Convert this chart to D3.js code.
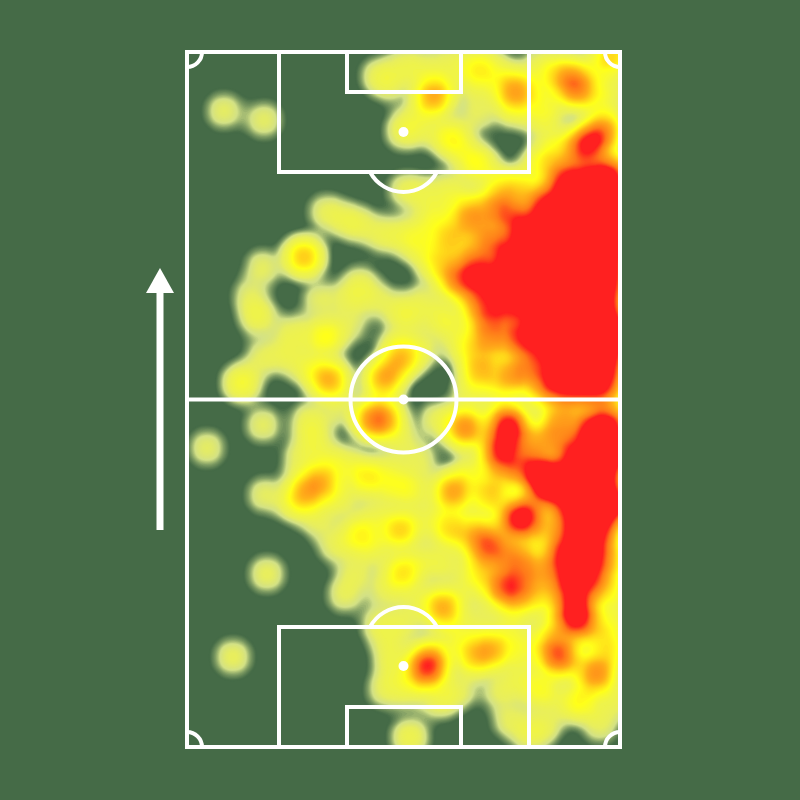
<!DOCTYPE html>
<html><head><meta charset="utf-8">
<script src="https://cdn.jsdelivr.net/npm/d3@7"></script>
<style>html,body{margin:0;padding:0;background:#456b47}svg{display:block}</style>
</head><body><div id="c"></div>
<script>
// touches: [across, along, weight]; across 0-433 left to right, along 0-695 own goal to opposition goal
const isolated=[[37,636,1],[77,627,1],[139,535,1],[117,490,4],[20,299,1],[80,173,1.1],[46,90,1.1],[78,252,1],[76,322,1]];
const attackingBox=[[192,671,1.1],[205,662,.8],[217,615,1.2],[225,627,.8],[246,650,4.5],[218,682,1],[238,677,1],[263,685,1],[291,679,2.6],[260,662,.8],[265,609,2.2],[243,617,.8],[272,597,.7],[291,632,.9],[293,657,1],[327,657,4.5],[313,677,1],[328,637,1.5],[290,584,2.4],[218,557,1],[238,552,1],[263,557,1.2],[313,567,1.2]];
const rightTop=[[390,657,5],[383,672,3],[368,672,1.5],[403,604,5.5],[416,614,4],[393,597,4],[425,692,3.5],[358,627,1.5],[368,597,2],[425,582,2],[353,582,2],[353,682,1],[408,677,1],[413,647,1.2],[421,625,1.2],[348,657,1],[358,645,1],[425,660,1]];
const flankUpper=[[378,567,8],[403,567,8],[423,567,8],[358,542,8],[383,542,8],[408,542,8],[428,542,8],[338,517,8],[363,517,8],[388,517,8],[413,517,8],[431,517,8],[323,492,8],[348,492,8],[373,492,8],[398,492,8],[423,492,8],[273,467,6],[298,467,8],[323,467,8],[348,467,8],[373,467,8],[398,467,8],[423,467,8],[293,442,4.5],[318,442,6],[343,442,8],[368,442,8],[393,442,8],[418,442,8],[333,417,3],[358,417,8],[383,417,8],[408,417,8],[428,417,8],[373,392,8],[398,392,8],[423,392,8],[368,367,8],[393,367,8],[418,367,8],[383,350,3],[408,350,3]];
const halfSpaceUpper=[[323,532,4],[263,507,3.2],[283,527,4],[303,507,4.5],[253,482,2.6],[288,487,4.5],[308,537,3.2],[283,542,1.5],[333,557,2.6],[313,552,1.5],[253,532,1],[303,407,4.5],[333,407,5],[353,397,4],[293,377,4],[323,372,4],[343,377,4],[303,427,3.5],[278,402,2],[263,427,1],[353,352,2],[313,352,1.2],[283,352,1.2]];
const midfield=[[173,522,1],[198,512,1.2],[223,512,1.3],[158,527,.8],[233,497,1.2],[243,522,1],[76,480,1],[71,430,1.4],[63,452,.8],[76,390,1],[55,364,2],[133,447,1],[173,464,1],[163,447,1],[190,447,.9],[138,410,2.6],[106,414,1.2],[143,367,4.4],[123,377,1.4],[101,390,1],[163,420,.8],[223,427,.9],[253,427,.9],[238,397,.9],[196,367,4],[216,390,3.2],[206,377,1.3],[186,327,5],[200,329,3],[250,327,1.1],[123,327,1.2],[126,307,1.2],[153,337,.9],[276,320,3.5],[213,307,1],[233,287,1],[213,437,1],[238,447,.9],[208,402,.8]];
const ownHalf=[[118,255,3.6],[135,265,3.6],[108,242,1.2],[153,247,1.2],[143,287,1.2],[180,269,2.6],[208,259,1.6],[228,257,1.5],[203,277,1],[163,282,1],[113,287,1],[216,175,3],[213,217,3.6],[173,212,2.5],[263,219,3.2],[168,175,1],[188,232,1],[238,187,1],[188,197,1],[228,147,1],[238,227,1],[148,202,1],[131,227,1],[198,157,1],[158,152,1],[256,140,4.5],[283,157,1],[258,182,1.2],[283,207,1.5]];
const ownBox=[[240,79,7.5],[246,92,2],[306,97,4],[286,90,3],[193,122,1.2],[203,97,1.1],[198,57,1],[208,77,1],[223,57,1.2],[253,47,1.3],[273,57,1],[223,10,1.4],[313,57,1],[323,27,1],[343,12,1],[218,122,1],[278,107,1],[263,117,1],[333,107,1],[333,67,1],[323,127,1.2],[293,127,1],[338,92,1.2]];
const halfSpaceLower=[[321,322,9],[315,297,8],[373,327,4],[266,255,5],[303,252,3.5],[331,227,8.5],[303,200,6],[316,160,5.5],[333,150,3],[371,92,6.5],[410,74,5.5],[396,47,2],[355,57,2.2],[283,317,2.4],[343,304,3.5],[366,307,3.5],[350,277,6],[360,260,7],[333,277,3.5],[343,237,3.5],[358,217,3],[333,192,3],[353,177,3.5],[323,187,2.5],[333,167,3],[358,152,2.4],[423,187,3],[423,157,2.2],[423,127,1.8],[283,277,1.5],[313,277,2.4],[423,335,2.4],[293,217,2.4],[293,177,2.4],[368,122,1.8],[363,107,1.3],[413,107,1.8],[383,82,1.2],[428,97,1.8],[383,42,1],[358,22,1],[413,22,1],[428,47,1.2]];
const flankLower=[[403,317,8],[423,317,8],[388,292,8],[413,292,8],[431,292,6],[368,267,8],[393,267,8],[418,267,8],[383,242,8],[408,242,8],[428,242,8],[388,217,8],[413,217,8],[378,192,8],[403,192,8],[383,167,8],[403,167,6],[388,142,7],[391,125,7]];
const touches=[].concat(isolated,attackingBox,rightTop,flankUpper,halfSpaceUpper,midfield,ownHalf,ownBox,halfSpaceLower,flankLower);

// heat ramp: stacked touches -> colour
const rampLevels=[0.13,0.3,0.5,0.85,2.1,3.8,5.5,7.0];
const rampColors=["#456b47","#7f9c63","#d3e186","#e8ee5e","#ffff1a","#ffb01a","#ff7a1a","#ff2020"];

// pitch markings, in the same units as the touches
const pitchW=433,pitchL=695;
const boxes=[[92,342,575,695],[160,274,655,695],[92,342,0,120],[160,274,0,40]];
const spots=[[216.5,347.5],[216.5,615],[216.5,81]];
const centreR=53, dArcR=38, dArcDepth=20, cornerR=15;

const W=800,H=800;
const x=d3.scaleLinear().domain([0,pitchW]).range([187,620]);
const y=d3.scaleLinear().domain([0,pitchL]).range([747,52]);
const svg=d3.select("#c").append("svg").attr("width",W).attr("height",H);
svg.append("rect").attr("width",W).attr("height",H).attr("fill","#456b47");
svg.append("defs").append("clipPath").attr("id","p").append("rect")
  .attr("x",x(0)).attr("y",y(pitchL)).attr("width",x(pitchW)-x(0)).attr("height",y(0)-y(pitchL));

const sigma=11, peak=1/(2*Math.PI*sigma*sigma);
const levels=d3.range(0.12,1.2,0.025).concat(d3.range(1.2,7.2,0.1));
const colour=d3.scaleLinear().domain(rampLevels).range(rampColors).clamp(true);
const density=d3.contourDensity().x(d=>x(d[0])).y(d=>y(d[1])).weight(d=>d[2])
  .size([W,H]).cellSize(2).bandwidth(sigma).thresholds(levels.map(l=>l*peak));
svg.append("g").attr("clip-path","url(#p)").selectAll("path").data(density(touches)).join("path")
  .attr("d",d3.geoPath()).attr("fill",d=>colour(d.value/peak));

const g=svg.append("g").attr("fill","none").attr("stroke","#fff").attr("stroke-width",4);
g.append("rect").attr("x",x(0)).attr("y",y(pitchL)).attr("width",x(pitchW)-x(0)).attr("height",y(0)-y(pitchL));
g.append("line").attr("x1",x(0)).attr("x2",x(pitchW)).attr("y1",y(pitchL/2)).attr("y2",y(pitchL/2));
g.append("circle").attr("cx",x(pitchW/2)).attr("cy",y(pitchL/2)).attr("r",centreR);
boxes.forEach(b=>g.append("rect").attr("x",x(b[0])).attr("y",y(b[3])).attr("width",x(b[1])-x(b[0])).attr("height",y(b[2])-y(b[3])));
function arcPath(r,a0,a1){return d3.arc()({innerRadius:r,outerRadius:r,startAngle:a0,endAngle:a1});}
const pi=Math.PI;
[[x(0),y(pitchL),pi/2,pi],[x(pitchW),y(pitchL),pi,1.5*pi],[x(0),y(0),0,pi/2],[x(pitchW),y(0),1.5*pi,2*pi]].forEach(c=>
  g.append("path").attr("transform",`translate(${c[0]},${c[1]})`).attr("d",arcPath(cornerR,c[2],c[3])));
// penalty arcs outside each box
const half=Math.acos((dArcR-dArcDepth)/dArcR), inset=dArcR-dArcDepth;
g.append("path").attr("transform",`translate(${x(pitchW/2)},${y(575+inset)})`).attr("d",arcPath(dArcR,pi-half,pi+half));
g.append("path").attr("transform",`translate(${x(pitchW/2)},${y(120-inset)})`).attr("d",arcPath(dArcR,-half,half));
svg.append("g").selectAll("circle").data(spots).join("circle").attr("cx",d=>x(d[0])).attr("cy",d=>y(d[1])).attr("r",5).attr("fill","#fff");

// attack direction arrow
svg.append("line").attr("x1",160).attr("x2",160).attr("y1",530).attr("y2",290).attr("stroke","#fff").attr("stroke-width",7);
svg.append("path").attr("d","M160,268L174,293L146,293Z").attr("fill","#fff");
</script></body></html>
